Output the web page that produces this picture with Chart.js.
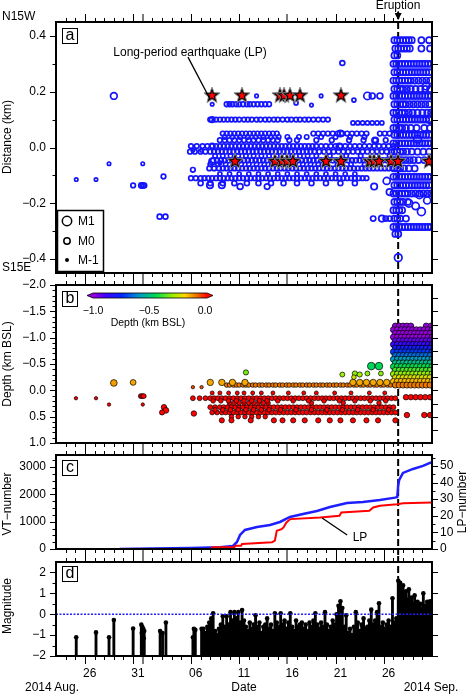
<!DOCTYPE html>
<html>
<head>
<meta charset="utf-8">
<script src="https://cdn.jsdelivr.net/npm/chart.js@4.4.1/dist/chart.umd.min.js"></script>
<style>
  html, body { margin: 0; padding: 0; background: #fff; }
  #wrap { position: relative; width: 468px; height: 694px; overflow: hidden; font-family: "Liberation Sans", Arial, sans-serif; color: #000; }
  #wrap canvas { position: absolute; left: 0; top: 0; }
  .t { position: absolute; font-size: 12px; line-height: 12px; white-space: nowrap; }
  .c { transform: translate(-50%, -50%); }
  .r { transform: translate(-50%, -50%) rotate(-90deg); }
  .s { font-size: 10.5px; line-height: 11px; }
  .box { position: absolute; width: 14px; height: 14px; border: 1.5px solid #000; background: #fff; font-size: 16px; line-height: 12px; text-align: center; }
</style>
</head>
<body>
<div id="wrap">
  <canvas id="chartA" width="468" height="694"></canvas>
  <canvas id="chartB" width="468" height="694"></canvas>
  <canvas id="chartC" width="468" height="694"></canvas>
  <canvas id="chartD" width="468" height="694"></canvas>

  <div class="t" style="left:2px;top:10px">N15W</div>
  <div class="t" style="left:2px;top:261px">S15E</div>
  <div class="t c" style="left:398px;top:5px">Eruption</div>
  <div class="t c" style="left:190px;top:52px">Long-period earthquake (LP)</div>
  <div class="t" style="left:78px;top:215px">M1</div>
  <div class="t" style="left:78px;top:235px">M0</div>
  <div class="t" style="left:78px;top:254px">M-1</div>
  <div class="t c s" style="left:93px;top:310px">&minus;1.0</div>
  <div class="t c s" style="left:149px;top:310px">&minus;0.5</div>
  <div class="t c s" style="left:205px;top:310px">0.0</div>
  <div class="t c s" style="left:148px;top:322px">Depth (km BSL)</div>
  <div class="t c" style="left:360px;top:537px">LP</div>
  <div class="t c" style="left:52px;top:687px">2014 Aug.</div>
  <div class="t c" style="left:244px;top:687px">Date</div>
  <div class="t c" style="left:431px;top:687px">2014 Sep.</div>
  <div class="t r" style="left:7px;top:137px">Distance (km)</div>
  <div class="t r" style="left:7px;top:364px">Depth (km BSL)</div>
  <div class="t r" style="left:7px;top:504px">VT&minus;number</div>
  <div class="t r" style="left:462px;top:502px">LP&minus;number</div>
  <div class="t r" style="left:7px;top:606px">Magnitude</div>

  <div class="box" style="left:62px;top:28px">a</div>
  <div class="box" style="left:62px;top:291px">b</div>
  <div class="box" style="left:62px;top:460px">c</div>
  <div class="box" style="left:62px;top:566px">d</div>
</div>
<script>
// days counted from 2014-08-23 00:00
const eruptionDay = 35.49

// x axis ticks
const dayTicks = [1,2,3,4,5,6,7,8,9,10,11,12,13,14,15,16,17,18,19,20,21,22,23,24,25,26,27,28,29,30,31,32,33,34,35,36,37,38]
const fiveDayTicks = [3, 8, 14, 19, 24, 29, 34]
const grayTicks = [9, 24]
const xLabelDays = [3.5, 8.5, 14.5, 19.5, 24.5, 29.5, 34.5]
const xLabels = ['26', '31', '06', '11', '16', '21', '26']

// y axis ticks
const aTicks = [-0.4, -0.2, 0, 0.2, 0.4]
const aMinor = [-0.3, -0.1, 0.1, 0.3]
const aRight = [-0.4, -0.3, -0.2, -0.1, 0, 0.1, 0.2, 0.3, 0.4]
const bTicks = [-2, -1.5, -1, -0.5, 0, 0.5, 1]
const bMinor = [-1.9, -1.8, -1.7, -1.6, -1.4, -1.3, -1.2, -1.1, -0.9, -0.8, -0.7, -0.6, -0.4, -0.3, -0.2, -0.1, 0.1, 0.2, 0.3, 0.4, 0.6, 0.7, 0.8, 0.9]
const bRight = [-1.75, -1.5, -1.25, -1, -0.75, -0.5, -0.25, 0, 0.25, 0.5, 0.75]
const cTicks = [0, 1000, 2000, 3000]
const cMinor = [250, 500, 750, 1250, 1500, 1750, 2250, 2500, 2750, 3250]
const cRightTicks = [0, 10, 20, 30, 40, 50]
const cRightMinor = [5, 15, 25, 35, 45, 55]
const dTicks = [-2, -1, 0, 1, 2]
const dMinor = [-1.5, -0.5, 0.5, 1.5]
const dRight = [-2, -1, 0, 1, 2]

// panel a: hypocentre distance along N15W, banded clusters
const aRowDist = [0.155, 0.10, 0.088, 0.05, 0.038, 0.026, 0.005, -0.015, -0.03, -0.046, -0.06, -0.075, -0.11, -0.095, -0.128,
  0.385, 0.355, 0.33, 0.30, 0.27, 0.24, 0.21, 0.185, 0.155, 0.125, 0.10, 0.07, 0.045, 0.015,
  -0.015, -0.045, -0.075, -0.105, -0.135, -0.165, -0.195, -0.225, -0.255, -0.285, -0.31]
const aRowMag = [-0.6, -0.6, -0.8, -0.6, -0.7, -0.6, -0.6, -0.6, -0.7, -0.5, -0.7, -0.6, -0.6, -0.8, -0.5,
  -0.1, -0.1, -0.1, -0.1, -0.1, -0.1, -0.1, -0.1, -0.1, -0.1, -0.1, -0.1, -0.1, -0.1,
  -0.1, -0.1, -0.1, -0.1, -0.1, -0.1, -0.1, -0.1, -0.1, -0.1, -0.1]
const aRowDays = [
  '17.7 18.0 18.3 18.7 19.0 19.4 19.8 20.1 20.5 20.9 21.3 21.7 22.1',
  '16.0 16.6 17.0 17.4 17.8 18.2 18.6 19.0 19.5 19.9 20.3 20.8 21.2 21.7 22.1 22.6 23.0 23.5 24.0 24.4 24.9 25.3 25.8 26.2 26.7 27.2 27.7 28.2',
  '30.8 31.3 31.8 32.3 32.8 33.3 33.8',
  '17.3 17.7 18.1 18.5 18.9 19.3 19.7 20.1 20.5 20.9 21.3 21.7 22.1 22.5 22.9 26.7 27.2 27.7 28.2 28.7 29.2 29.7 30.2 30.7 31.2 31.7 32.2 33.6 34.1 34.6',
  '17.5 18.3 19.1 19.9 20.7 21.5 22.3 23.1 24.0 25.2 26.0 27.5 29.0 30.5 32.0',
  '17.0 17.5 18.0 18.5 19.0 19.5 20.0 20.5 21.0 21.5 22.0 22.5 23.0 24.2 25.0 27.0 28.6 30.4 31.9 33.1 34.2',
  '14.0 14.6 15.2 15.7 16.2 16.6 17.0 17.4 17.8 18.2 18.6 19.0 19.4 19.8 20.2 20.6 21.0 21.4 21.8 22.2 22.6 23.0 23.4 23.8 24.2 24.6 25.0 25.4 25.8 26.2 26.6 27.0 27.5 28.0 28.5 29.0 29.5 30.0 30.5 31.0 31.5 32.0 32.5 33.0 33.5 34.0 34.5 35.0',
  '13.9 14.4 15.0 15.5 16.0 16.4 16.8 17.2 17.6 18.0 18.4 18.8 19.2 19.6 20.0 20.4 20.8 21.2 21.6 22.0 22.4 22.8 23.2 23.6 24.0 24.4 24.8 25.2 25.6 26.0 26.4 26.8 27.3 27.8 28.3 28.8 29.3 29.8 30.3 30.8 31.3 31.8 32.3 32.8 33.3 33.8 34.3 34.8',
  '16.5 17.3 18.1 18.9 19.7 20.5 21.3 22.1 22.9 23.7 24.5 25.3 26.1 27.0 28.4 30.1 31.6 33.2 34.6',
  '16.3 16.7 17.1 17.5 17.9 18.3 18.7 19.1 19.5 19.9 20.3 20.7 21.1 21.5 21.9 22.3 22.7 23.1 23.5 23.9 24.3 24.7 25.1 25.5 25.9 26.3 26.7 27.1 27.5 27.9 28.3 28.7 29.1 29.5 29.9 30.3 30.7 31.1 31.5 31.9 32.3 32.7 33.1 33.5 33.9 34.3 34.7 35.1',
  '16.0 16.8 17.6 18.4 19.2 20.0 20.8 21.6 22.4 23.2 24.0 24.8 25.6 26.4 27.2 28.0 29.2 30.6 32.0 33.4 34.8',
  '15.9 16.4 16.9 17.3 17.7 18.1 18.5 18.9 19.3 19.7 20.1 20.5 20.9 21.3 21.7 22.1 22.5 22.9 23.3 23.7 24.1 24.5 24.9 25.3 25.7 26.1 26.5 26.9 27.3 27.7 28.1 28.5 28.9 29.3 29.7 30.1 30.5 30.9 31.3 31.7 32.1 32.5 32.9 33.3 33.7 34.1 34.5 34.9',
  '14.0 14.5 15.0 15.4 15.8 16.2 16.6 17.0 17.4 17.8 18.2 18.6 19.0 19.4 19.8 20.2 20.6 21.0 21.4 21.8 22.2 22.6 23.0 23.4 23.8 24.2 24.6 25.0 25.4 25.8 26.2 26.6 27.0 27.4 27.8 28.2 28.6 29.0 29.4 29.8 30.2 30.6 31.0 31.4 31.8 32.2',
  '17.0 18.0 19.0 20.0 21.0 22.0 23.0 24.0 25.0 26.0 27.0 28.0 29.0 30.0 31.0',
  '15.0 16.0 17.3 18.5 19.8 21.0 22.3 23.6 25.0 26.5 28.0 29.5 31.0',
  '35.1 35.4 35.7 36.0 36.3 36.6 36.9 37.9 38.7',
  '35.2 35.5 35.8 36.1 36.4 36.7 37.9 38.8',
  '35.1 35.4',
  '35.0 35.3 35.6 35.9 36.2 36.5 36.8 37.1 37.4 37.7 38.0 38.3 38.6 38.9',
  '35.1 35.4 35.7 36.0 36.3 36.6 36.9 37.2 37.5 37.8 38.1 38.4 38.7',
  '35.0 35.3 35.6 35.9 36.2 36.5 36.8 37.2 37.6 38.0 38.4 38.8',
  '35.1 35.4 35.7 36.0 36.4 36.8 37.3 37.8 38.3 38.8',
  '35.0 35.3 35.6 35.9 36.2 36.5 36.8 37.1 37.4 37.7 38.0 38.3 38.6 38.9',
  '35.1 35.4 35.7 36.0 36.3 36.7 37.1 37.5 37.9 38.3 38.7',
  '35.0 35.3 35.6 35.9 36.2 36.6 37.0 37.5 38.0 38.5 38.9',
  '35.1 35.4 35.7 36.0 36.3 36.6 36.9 37.2 37.5 37.8 38.1 38.4 38.7',
  '35.0 35.3 35.6 35.9 36.3 36.8 37.4 38.2 38.8',
  '35.1 35.4 35.7 36.0 36.3 36.6 36.9 37.2 37.5 37.8 38.1 38.4 38.7',
  '35.0 35.3 35.6 35.9 36.2 36.5 36.8 37.1 37.4 37.7 38.0 38.3 38.6 38.9',
  '35.1 35.4 35.7 36.0 36.4 36.9 37.5 38.1 38.7',
  '35.0 35.3 35.6 35.9 36.3 36.7 37.1 37.6 38.2',
  '35.1 35.4 35.7 36.1 36.6 37.2',
  '35.0 35.3 35.6 35.9 36.2 36.5 36.8 37.1 37.4 37.7 38.0 38.3 38.6 38.9',
  '35.1 35.4 35.7 36.0 36.3 36.6 36.9 37.2 37.5 37.8 38.1 38.4 38.7',
  '35.0 35.3 35.6 35.9 36.2 36.5 36.9 37.3 37.7 38.1 38.5 38.9',
  '35.1 35.4 35.7 36.0 36.5',
  '35.0 35.3 35.6 35.9',
  '35.1 35.4 35.7 36.3',
  '35.0 35.3 35.6 35.9 36.2 36.5 36.8 37.1 37.4 37.7 38.0 38.3 38.6 38.9',
  '35.2 35.5'
]
// panel a: isolated events
const aDay = [2.1, 4.15, 5.5, 6.0, 8.0, 8.85, 9.0, 9.15, 9.0, 10.75, 11.35, 11.15, 14.2, 15.1, 14.2, 15.97, 17.2, 16.2, 16.2, 16.2,
  17.0, 16.2, 19.1, 21.9, 20.8, 27.5, 26.5, 24.9, 29.7, 32.3, 32.8, 33.6, 29.5, 29.4, 33.1, 34.3, 33.0, 34.6, 32.9, 33.8,
  34.2, 34.6, 35.5, 30.9, 36.6, 37.3, 37.9, 38.5, 37.7, 38.4, 38.8, 37.5]
const aDist = [-0.115, -0.115, -0.058, 0.185, -0.136, -0.136, -0.136, -0.136, -0.058, -0.248, -0.248, -0.104, -0.01, -0.01, -0.08, -0.135, -0.135, 0.1, 0.155, -0.05,
  -0.055, 0.005, -0.14, -0.14, 0.185, 0.185, 0.152, 0.16, 0.303, 0.185, 0.185, 0.185, 0.05, 0.003, 0.025, -0.12, -0.14, -0.16, -0.255, -0.255,
  -0.255, -0.255, -0.395, 0.17, -0.2, -0.21, -0.23, -0.19, -0.17, 0.22, 0.1, 0.03]
const aMag = [-1, -1, -1, 0.1, -0.6, -0.4, -0.4, -0.5, -1, -0.5, -0.5, -0.6, -1, -1, -0.6, 0, 0, -0.3, -1, 0,
  -1, -0.3, -0.2, -0.3, -1, -1, -1, -0.8, -0.5, 0.3, -0.2, -0.2, 0, 0, 0, 0.2, 0, 0, -0.4, 0,
  -0.4, -0.4, 0.4, -0.8, 0.4, 0.3, 0.5, 0.2, 0.3, 0.3, 0.4, 0.4]
// long-period events
const lpDay = [16.18, 19.29, 23.23, 23.65, 24.27, 25.31, 29.56, 18.57, 22.72, 23.44, 23.96, 24.58, 28.0, 29.56, 32.57, 32.98, 33.5, 34.75, 35.47, 38.69]
const lpDist = [0.188, 0.188, 0.188, 0.188, 0.188, 0.188, 0.188, -0.048, -0.048, -0.048, -0.048, -0.048, -0.048, -0.048, -0.048, -0.048, -0.048, -0.048, -0.048, -0.048]

// panel b: depth (km BSL)
const bRowDepth = [0.15, 0.05, 0.32, 0.42, 0.24, 0.5, 0.57, 0.2, 0.37, -0.1, -0.15,
  -1.22, -1.15, -1.08, -1.01, -0.94, -0.87, -0.80, -0.73, -0.66, -0.59, -0.52, -0.45, -0.38, -0.31, -0.24, -0.17, -0.10, 0.13, 0.47]
const bRowMag = [-0.5, -0.8, -0.5, -0.5, -0.6, -0.6, -0.4, -0.6, -0.6, -0.6, 0,
  -0.1, -0.1, -0.1, -0.1, -0.1, -0.1, -0.1, -0.1, -0.1, -0.1, -0.1, -0.1, -0.1, -0.1, -0.1, -0.1, -0.1, -0.3, -0.3]
const bRowDays = [
  '14.2 14.9 15.5 16.0 16.4 16.8 17.2 17.6 18.0 18.4 18.8 19.2 19.6 20.0 20.4 20.8 21.2 21.6 22.0 22.4 22.8 23.2 23.6 24.0 24.4 24.8 25.2 25.6 26.0 26.4 26.8 27.2 27.6 28.0 28.4 28.8 29.2 29.6 30.0 30.4 30.8 31.2 31.6 32.0 32.4 32.8 33.2 33.6 34.0 34.4 34.8 35.2',
  '16.2 17.0 17.9 18.8 19.5 20.4 21.3 22.5 24.1 25.7 27.0 28.9 30.6 32.5 34.1',
  '16.0 16.5 17.0 17.4 17.8 18.2 18.6 19.0 19.4 19.8 20.2 20.6 21.0 21.4 21.8 22.2 22.6 23.0 23.4 23.8 24.2 24.6 25.0 25.4 25.8 26.2 26.6 27.0 27.4 27.8 28.2 28.6 29.0 29.4 29.8 30.2 30.6 31.0 31.4 31.8 32.2 32.6 33.0 33.4 33.8 34.2 34.6 35.0',
  '16.2 16.7 17.2 17.6 18.0 18.4 18.8 19.2 19.6 20.0 20.4 20.8 21.2 21.6 22.0 22.4 22.8 23.2 23.6 24.0 24.4 24.8 25.2 25.6 26.0 26.4 26.8 27.2 27.6 28.0 28.4 28.8 29.2 29.6 30.0 30.4 30.8 31.2 31.6 32.0 32.4 32.8 33.2 33.6 34.0 34.4 34.8 35.2',
  '18.0 18.5 19.0 19.5 20.0 20.5 21.0 21.5 22.0 26.5 29.8 33.5',
  '18.2 18.9 19.6 20.3 21.0 21.7',
  '17.2 18.2 20.2 22.6 23.5 24.6 25.8 27.2 28.4 29.5 30.8 32.2 33.4 35.2',
  '16.3 17.1 17.9 18.7 19.5 20.3 21.1 21.9 23.0 24.6 26.2 27.8 29.4 31.0 32.6 34.2',
  '16.5 17.3 18.1 18.9 19.7 20.5 21.3 22.1 23.3 24.9 26.5 28.1 29.7 31.3 32.9 34.5',
  '17.7 18.0 18.4 18.7 19.0 19.4 19.7 20.0 20.4 20.7 21.1 21.4 21.8 22.1 22.5 22.8 23.2 23.5 23.9 24.2 24.6 24.9 25.3 25.6 26.0 26.3 26.7 27.0 27.4 27.7 28.1 28.4 28.8 29.1 29.5 29.8 30.2 30.5 30.9 31.2 31.6 31.9 32.3 32.6 33.0 33.3 33.7 34.0 34.4 34.7 35.1',
  '16.0 17.2 18.3 19.6 30.8 31.5 32.2 32.9 33.6 34.3',
  '35.2 35.6 36.0 36.4 36.8 38.4 38.9',
  '35.0 35.4 35.8 36.2 36.6 37.0 37.4 37.8 38.2 38.6 39.0',
  '35.2 35.6 36.0 36.4 36.8 37.2 37.6 38.0 38.4 38.8',
  '35.0 35.4 35.8 36.2 36.6 37.0 37.4 37.8 38.2 38.6 39.0',
  '35.2 35.6 36.0 36.4 36.8 37.2 37.6 38.0 38.4 38.8',
  '35.0 35.4 35.8 36.2 36.6 37.0 37.4 37.8 38.2 38.6 39.0',
  '35.2 35.6 36.0 36.4 36.8 37.2 37.6 38.0 38.4 38.8',
  '35.0 35.4 35.8 36.2 36.6 37.0 37.4 37.8 38.2 38.6 39.0',
  '35.2 35.6 36.0 36.4 36.8 37.2 37.6 38.0 38.4 38.8',
  '35.0 35.4 35.8 36.2 36.6 37.0 37.4 37.8 38.2 38.6 39.0',
  '35.2 35.6 36.0 36.4 36.8 37.2 37.6 38.0 38.4 38.8',
  '35.0 35.4 35.8 36.2 36.6 37.0 37.4 37.8 38.2 38.6 39.0',
  '35.2 35.6 36.0 36.4 36.8 37.2 37.6 38.0 38.4 38.8',
  '35.0 35.4 35.8 36.2 36.6 37.0 37.4 37.8 38.2 38.6 39.0',
  '35.2 35.6 36.0 36.4 36.8 37.2 37.6 38.0 38.4 38.8',
  '35.0 35.4 35.8 36.2 36.6 37.0 37.4 37.8 38.2 38.6 39.0',
  '35.2 35.6 36.0 36.4 36.8 37.2 37.6 38.0 38.4 38.8',
  '36.3 36.8 37.3 37.8 38.3 38.8',
  '36.4 38.2 38.8'
]
const bDay = [2.07, 4.15, 5.5, 6.0, 8.0, 8.8, 8.95, 9.1, 9.0, 11.2, 11.4, 11.0, 14.2, 15.1, 14.3, 19.7, 29.7, 31.0, 31.5, 32.3, 32.7, 33.5, 33.7, 30.9]
const bDepth = [0.15, 0.15, 0.27, -0.14, -0.15, 0.11, 0.11, 0.11, 0.27, 0.32, 0.38, 0.42, -0.06, -0.06, 0.44, -0.34, -0.3, -0.32, -0.3, -0.32, -0.46, -0.46, -0.32, -0.25]
const bMag = [-1, -1, -1, 0.1, -0.2, -0.5, -0.5, -0.5, -1, -0.3, -0.2, -0.4, -1, -1, -0.3, -0.4, -0.5, -0.4, -0.4, -0.5, 0.4, 0.4, -0.5, -0.6]

// panel c: cumulative numbers
const vtDay = [6.6, 10, 14, 17, 18.36, 18.77, 19.09, 19.6, 20.85, 22.2, 23.23, 24.27, 25.62, 27.07, 28.42, 30.18, 31.84, 33.6, 35.16, 35.4, 35.5, 35.6, 35.99, 37.03, 38.07, 38.79, 39]
const vtCount = [0, 15, 35, 60, 110, 256, 513, 696, 806, 879, 989, 1172, 1282, 1392, 1538, 1685, 1722, 1795, 1880, 1905, 2350, 2527, 2784, 2930, 3040, 3150, 3180]
const lpCumDay = [15.8, 16.1, 16.2, 18.5, 18.6, 19.2, 19.3, 22.4, 22.7, 22.8, 22.9, 23.4, 23.6, 23.9, 24.3, 27.4, 29.4, 29.6, 32.5, 32.9, 33.6, 35.4, 36.0, 39.0]
const lpCum = [0, 0, 1, 1, 2, 2, 3, 4, 5, 8, 11, 12, 13, 16, 18, 19, 20, 22, 23, 25, 26, 27, 27.5, 28]

// panel d: magnitudes
const dPreDay = '2.1 4.15 5.5 6.0 8.0 8.85 8.9 8.95 9.0 9.05 9.1 9.15 10.8 11.05 11.4 14.2 14.3 14.45 15.1 15.3'
const dPreMag = '-1.1 -0.87 -1.1 -0.28 -0.68 -0.5 -0.9 -0.6 -1.0 -0.7 -1.15 -0.8 -0.8 -0.9 -0.4 -1.1 -0.7 -0.75 -0.7 -0.7'
const dMidDay = '15.5 15.7 15.9 16.1 16.3 16.5 16.7 16.9 17.1 17.3 17.5 17.7 17.9 18.1 18.3 18.5 18.7 18.9 19.1 19.3 19.5 19.7 19.9 20.1 20.3 20.5 20.7 20.9 21.1 21.3 21.5 21.7 21.9 22.1 22.3 22.5 22.7 22.9 23.1 23.3 23.5 23.7 23.9 24.1 24.3 24.5 24.7 24.9 25.1 25.3 25.5 25.7 25.9 26.1 26.3 26.5 26.7 26.9 27.1 27.3 27.5 27.7 27.9 28.1 28.3 28.5 28.7 28.9 29.1 29.3 29.5 29.7 29.9 30.1 30.3 30.5 30.7 30.9 31.1 31.3 31.5 31.7 31.9 32.1 32.3 32.5 32.7 32.9 33.1 33.3 33.5 33.7 33.9 34.1 34.3 34.5 34.7 34.9 35.1 35.3'
const dMidMag = '-0.9 -0.6 -0.4 -0.2 0.05 -0.8 -1.0 -0.7 -0.5 -0.1 -0.6 -0.1 -0.5 0.1 -0.3 0.1 -0.2 0.1 -0.4 0.2 -0.3 -0.6 -0.8 -0.4 -0.7 -0.5 -0.05 -0.6 -0.4 -0.9 -0.6 -0.5 -0.2 -0.7 -0.5 -0.8 0.05 -0.4 -0.6 0.05 -0.5 -0.3 -0.7 -0.4 0.05 -0.6 -0.8 -0.3 -0.6 -0.5 -0.4 -0.7 -0.5 -0.8 -0.4 -0.6 -0.3 0.05 -0.5 -0.7 -0.4 -0.6 0.1 -0.5 -0.8 -0.6 -0.3 -0.5 0.0 0.4 0.62 0.3 -0.6 -0.05 -0.9 -0.7 -1.0 -0.6 0.1 -0.4 -0.8 -0.5 -0.2 -0.7 -0.6 -0.3 0.22 -0.5 -0.3 0.1 0.52 -0.6 -0.4 -0.7 -0.5 -0.3 -0.6 0.76 -0.4 -0.2'
const dPostDay = '35.5 35.6 35.7 35.8 35.9 36.0 36.1 36.2 36.3 36.4 36.5 36.6 36.7 36.8 36.9 37.0 37.1 37.2 37.3 37.4 37.5 37.6 37.7 37.8 37.9 38.0 38.1 38.2 38.3 38.4 38.5 38.6 38.7 38.8 38.9 39.0'
const dPostMag = '1.6 -0.1 1.5 1.2 0.0 1.38 -0.2 0.9 1.1 0.1 0.7 1.19 -0.1 0.6 0.8 0.0 0.5 0.9 -0.2 0.4 0.6 0.1 0.3 0.5 -0.1 0.2 1.0 0.0 0.4 0.3 0.6 -0.1 0.5 0.62 0.2 0.4'

// ---------------------------------------------------------------------
const nums = s => s.trim().split(/\s+/).map(Number)
const magR = m => 3.2 + 1.5 * m
const fmt1 = v => (v < 0 ? '\u2212' : '') + Math.abs(v).toFixed(1)
const fmt0 = v => (v < 0 ? '\u2212' : '') + Math.abs(v).toFixed(0)

Chart.defaults.font.family = '"Liberation Sans", Arial, sans-serif'
Chart.defaults.font.size = 12
Chart.defaults.color = '#000'

const depthStops = [[0, [150, 0, 220]], [0.1, [70, 0, 255]], [0.25, [0, 40, 255]], [0.4, [0, 150, 200]],
  [0.55, [0, 220, 80]], [0.7, [160, 240, 0]], [0.8, [255, 215, 0]], [0.9, [235, 120, 0]], [1, [255, 0, 0]]]
function depthColor(d) {
  const t = Math.max(0, Math.min(1, d + 1))
  for (let i = 1; i < depthStops.length; i++) {
    const [t1, c1] = depthStops[i]
    const [t0, c0] = depthStops[i - 1]
    if (t <= t1) {
      const f = (t - t0) / (t1 - t0)
      const c = c0.map((v, k) => Math.round(v + (c1[k] - v) * f))
      return `rgb(${c[0]},${c[1]},${c[2]})`
    }
  }
  return 'rgb(255,0,0)'
}

function starImage() {
  const c = document.createElement('canvas')
  c.width = c.height = 20
  const g = c.getContext('2d')
  const path = (R, r) => {
    g.beginPath()
    for (let i = 0; i < 10; i++) {
      const a = -Math.PI / 2 + i * Math.PI / 5
      const rr = i % 2 ? r : R
      g.lineTo(10 + rr * Math.cos(a), 10.5 + rr * Math.sin(a))
    }
    g.closePath()
  }
  path(8.5, 3.6)
  g.fillStyle = '#000'
  g.fill()
  g.strokeStyle = '#888'
  g.lineWidth = 1
  g.stroke()
  path(4.4, 1.9)
  g.fillStyle = '#f00'
  g.fill()
  return c
}

// frame, outward ticks and eruption line for one panel
function panelPlugin(cfg) {
  return {
    id: 'panel',
    beforeDatasetsDraw(chart) {
      const { ctx, chartArea: ca } = chart
      const ex = chart.scales.x.getPixelForValue(eruptionDay)
      ctx.save()
      ctx.strokeStyle = '#000'
      ctx.lineWidth = 2
      ctx.setLineDash([7, 3])
      ctx.beginPath()
      ctx.moveTo(ex, ca.top - (cfg.above ?? 6))
      ctx.lineTo(ex, ca.bottom + (cfg.below ?? 6))
      ctx.stroke()
      ctx.restore()
    },
    afterDatasetsDraw(chart) {
      if (cfg.extra) cfg.extra(chart)
    },
    afterDraw(chart) {
      const { ctx, chartArea: ca, scales } = chart
      const x = scales.x
      const y = scales.y
      const yr = scales[cfg.rightAxis || 'y']
      const px = v => Math.round(x.getPixelForValue(v)) + 0.5
      const py = (s, v) => Math.round(s.getPixelForValue(v)) + 0.5
      ctx.save()
      ctx.strokeStyle = '#000'
      ctx.lineWidth = 1
      ctx.beginPath()
      dayTicks.forEach(d => {
        const len = fiveDayTicks.includes(d) ? 8 : 4
        ctx.moveTo(px(d), ca.top); ctx.lineTo(px(d), ca.top - len)
        ctx.moveTo(px(d), ca.bottom); ctx.lineTo(px(d), ca.bottom + len)
      })
      cfg.yMajor.forEach(v => { ctx.moveTo(ca.left, py(y, v)); ctx.lineTo(ca.left - 6, py(y, v)) })
      cfg.yMinor.forEach(v => { ctx.moveTo(ca.left, py(y, v)); ctx.lineTo(ca.left - 3.5, py(y, v)) })
      cfg.yRight.forEach(v => { ctx.moveTo(ca.right, py(yr, v)); ctx.lineTo(ca.right + 6, py(yr, v)) })
      ;(cfg.yRightMinor || []).forEach(v => { ctx.moveTo(ca.right, py(yr, v)); ctx.lineTo(ca.right + 3.5, py(yr, v)) })
      ctx.stroke()
      ctx.strokeStyle = '#7a7a7a'
      ctx.lineWidth = 2
      ctx.beginPath()
      grayTicks.forEach(d => {
        const p = Math.round(x.getPixelForValue(d))
        ctx.moveTo(p, ca.top); ctx.lineTo(p, ca.top - 8)
        ctx.moveTo(p, ca.bottom); ctx.lineTo(p, ca.bottom + 8)
      })
      ctx.stroke()
      ctx.strokeStyle = '#000'
      ctx.lineWidth = 2
      ctx.strokeRect(ca.left, ca.top, ca.right - ca.left, ca.bottom - ca.top)
      ctx.restore()
    }
  }
}

const xScale = (display) => ({
  type: 'linear', min: 0, max: 39, bounds: 'data', offset: false, display,
  position: 'bottom',
  grid: { display: false, drawTicks: false, offset: false }, border: { display: false },
  ticks: { padding: 10, autoSkip: false, maxRotation: 0, callback: (v, i) => xLabels[i] },
  afterBuildTicks: s => { s.ticks = xLabelDays.map(value => ({ value })) },
  afterFit: s => { s.height = display ? 38 : 0 }
})
const yScale = (min, max, ticks, fmt, extra) => Object.assign({
  type: 'linear', min, max, bounds: 'data', position: 'left',
  grid: { display: false, drawTicks: false }, border: { display: false },
  ticks: { padding: 10, autoSkip: false, callback: fmt },
  afterBuildTicks: s => { s.ticks = ticks.map(value => ({ value })) },
  afterFit: s => { s.width = 56 }
}, extra || {})

const baseOpts = (padding) => ({
  responsive: false, animation: false, events: [],
  layout: { padding },
  plugins: { legend: { display: false }, tooltip: { enabled: false } }
})

// ---------------- panel a ----------------
const aPts = []
aRowDist.forEach((d, i) => nums(aRowDays[i]).forEach(x => aPts.push({ x, y: d, m: aRowMag[i] })))
aDay.forEach((x, i) => aPts.push({ x, y: aDist[i], m: aMag[i] }))
const starImg = starImage()

new Chart(document.getElementById('chartA'), {
  type: 'scatter',
  data: {
    datasets: [{
      data: aPts,
      order: 2,
      pointRadius: c => magR(c.raw.m),
      pointBorderWidth: 1.7,
      pointBorderColor: 'rgb(20,20,255)',
      pointBackgroundColor: 'rgba(0,0,0,0)'
    }, {
      data: lpDay.map((x, i) => ({ x, y: lpDist[i] })),
      order: 1,
      pointStyle: starImg
    }]
  },
  options: Object.assign(baseOpts({ left: 0, top: 22, right: 36, bottom: 421 }), {
    scales: { x: xScale(false), y: yScale(-0.45, 0.45, aTicks, fmt1) }
  }),
  plugins: [panelPlugin({
    above: 10, yMajor: aTicks, yMinor: aMinor, yRight: aRight,
    extra(chart) {
      const { ctx, scales: { x, y } } = chart
      ctx.save()
      // annotation arrow to the first LP event
      const x0 = x.getPixelForValue(13.69), y0 = y.getPixelForValue(0.324)
      const x1 = x.getPixelForValue(lpDay[0]) - 2, y1 = y.getPixelForValue(lpDist[0]) + 4
      ctx.strokeStyle = '#000'
      ctx.lineWidth = 1.3
      ctx.beginPath(); ctx.moveTo(x0, y0); ctx.lineTo(x1, y1); ctx.stroke()
      // eruption marker above the frame
      const ex = x.getPixelForValue(eruptionDay)
      ctx.beginPath(); ctx.moveTo(ex, 11); ctx.lineTo(ex, 14); ctx.lineWidth = 1; ctx.stroke()
      ctx.fillStyle = '#000'
      ctx.beginPath(); ctx.moveTo(ex - 3.5, 13); ctx.lineTo(ex + 3.5, 13); ctx.lineTo(ex, 20); ctx.closePath(); ctx.fill()
      // magnitude legend
      ctx.fillStyle = '#fff'
      ctx.fillRect(57, 210, 47, 62)
      ctx.strokeStyle = '#000'
      ctx.lineWidth = 1.5
      ctx.strokeRect(57.5, 210.5, 46, 61)
      ;[[221, 1], [241, 0]].forEach(([cy, m]) => {
        ctx.beginPath(); ctx.arc(67, cy, magR(m), 0, Math.PI * 2); ctx.stroke()
      })
      ctx.fillStyle = '#000'
      ctx.beginPath(); ctx.arc(67, 260, 2, 0, Math.PI * 2); ctx.fill()
      ctx.restore()
    }
  })]
})

// ---------------- panel b ----------------
const bPts = []
bRowDepth.forEach((d, i) => nums(bRowDays[i]).forEach(x => bPts.push({ x, y: d, m: bRowMag[i] })))
bDay.forEach((x, i) => bPts.push({ x, y: bDepth[i], m: bMag[i] }))

new Chart(document.getElementById('chartB'), {
  type: 'scatter',
  data: {
    datasets: [{
      data: bPts,
      pointRadius: c => magR(c.raw.m),
      pointBorderWidth: 0.7,
      pointBorderColor: '#000',
      pointBackgroundColor: c => depthColor(c.raw.y)
    }]
  },
  options: Object.assign(baseOpts({ left: 0, top: 285, right: 36, bottom: 251 }), {
    scales: { x: xScale(false), y: yScale(-2, 1, bTicks, fmt1, { reverse: true }) }
  }),
  plugins: [panelPlugin({
    yMajor: bTicks, yMinor: bMinor, yRight: bRight,
    extra(chart) {
      // depth colour bar
      const { ctx } = chart
      const x0 = 93, x1 = 207, yb = 293, h = 5
      ctx.save()
      for (let p = x0; p < x1; p++) {
        ctx.fillStyle = depthColor((p - x0) / (x1 - x0) - 1)
        ctx.fillRect(p, yb, 1, h)
      }
      ctx.fillStyle = depthColor(-1)
      ctx.beginPath(); ctx.moveTo(x0, yb); ctx.lineTo(x0 - 6, yb + h / 2); ctx.lineTo(x0, yb + h); ctx.closePath(); ctx.fill()
      ctx.fillStyle = depthColor(0)
      ctx.beginPath(); ctx.moveTo(x1, yb); ctx.lineTo(x1 + 6, yb + h / 2); ctx.lineTo(x1, yb + h); ctx.closePath(); ctx.fill()
      ctx.strokeStyle = '#000'
      ctx.lineWidth = 0.8
      ctx.beginPath()
      ctx.moveTo(x0, yb); ctx.lineTo(x1, yb); ctx.lineTo(x1 + 6, yb + h / 2); ctx.lineTo(x1, yb + h)
      ctx.lineTo(x0, yb + h); ctx.lineTo(x0 - 6, yb + h / 2); ctx.closePath(); ctx.stroke()
      ctx.restore()
    }
  })]
})

// ---------------- panel c ----------------
new Chart(document.getElementById('chartC'), {
  type: 'scatter',
  data: {
    datasets: [{
      data: lpCumDay.map((x, i) => ({ x, y: lpCum[i] })),
      yAxisID: 'y2', showLine: true, pointRadius: 0, borderColor: 'rgb(255,0,0)', borderWidth: 2
    }, {
      data: vtDay.map((x, i) => ({ x, y: vtCount[i] })),
      yAxisID: 'y', showLine: true, pointRadius: 0, borderColor: 'rgb(30,30,255)', borderWidth: 2.5
    }]
  },
  options: Object.assign(baseOpts({ left: 0, top: 455, right: 0, bottom: 145 }), {
    scales: {
      x: xScale(false),
      y: yScale(0, 3440, cTicks, fmt0),
      y2: yScale(0, 56.6, cRightTicks, fmt0, { position: 'right', ticks: { padding: 8, autoSkip: false, callback: fmt0 }, afterFit: s => { s.width = 36 } })
    }
  }),
  plugins: [panelPlugin({
    yMajor: cTicks, yMinor: cMinor, yRight: cRightTicks, yRightMinor: cRightMinor, rightAxis: 'y2',
    extra(chart) {
      const { ctx, scales: { x, y2 } } = chart
      ctx.save()
      ctx.strokeStyle = '#000'
      ctx.lineWidth = 1.3
      ctx.beginPath()
      ctx.moveTo(x.getPixelForValue(27.6), y2.getPixelForValue(18.7))
      ctx.lineTo(x.getPixelForValue(30.2), y2.getPixelForValue(8.4))
      ctx.stroke()
      ctx.restore()
    }
  })]
})

// ---------------- panel d ----------------
const dDays = [...nums(dPreDay), ...nums(dMidDay), ...nums(dPostDay)]
const dMags = [...nums(dPreMag), ...nums(dMidMag), ...nums(dPostMag)]
const dN = Math.min(dDays.length, dMags.length)
const dStems = [], dTops = []
for (let i = 0; i < dN; i++) {
  dStems.push({ x: dDays[i], y: [-2, dMags[i]] })
  dTops.push({ x: dDays[i], y: dMags[i] })
}

new Chart(document.getElementById('chartD'), {
  type: 'scatter',
  data: {
    datasets: [{
      type: 'bar', data: dStems, backgroundColor: '#000', barThickness: 2.2, grouped: false
    }, {
      data: dTops, pointRadius: 2.3, pointBorderWidth: 0, pointBackgroundColor: '#000'
    }]
  },
  options: Object.assign(baseOpts({ left: 0, top: 562, right: 36, bottom: 0 }), {
    scales: { x: xScale(true), y: yScale(-2, 2.5, dTicks, fmt0) }
  }),
  plugins: [panelPlugin({
    below: 0, yMajor: dTicks, yMinor: dMinor, yRight: dRight,
    extra(chart) {
      const { ctx, chartArea: ca, scales: { y } } = chart
      const p = y.getPixelForValue(0)
      ctx.save()
      ctx.strokeStyle = 'rgb(30,30,255)'
      ctx.lineWidth = 1.6
      ctx.setLineDash([2, 1.5])
      ctx.beginPath(); ctx.moveTo(ca.left, p); ctx.lineTo(ca.right, p); ctx.stroke()
      ctx.restore()
    }
  })]
})
</script>
</body>
</html>
